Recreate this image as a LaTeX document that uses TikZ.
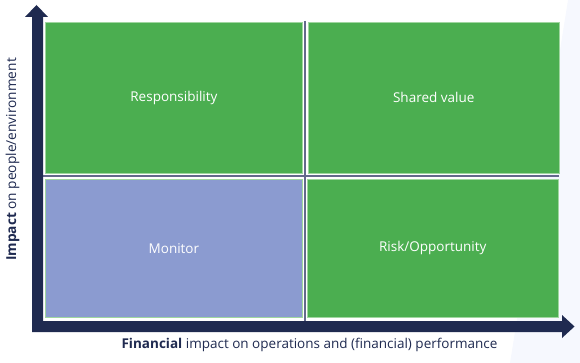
\documentclass[tikz,border=0pt]{standalone}
\usepackage{fontspec}
\setmainfont{Open Sans}
\definecolor{boxgreen}{RGB}{75,174,80}
\definecolor{boxblue}{RGB}{139,155,208}
\definecolor{navy}{RGB}{31,42,80}
\definecolor{divider}{RGB}{100,105,140}
\definecolor{edgegreen}{RGB}{160,214,160}
\definecolor{bgfaint}{RGB}{246,248,254}
\begin{document}
\begin{tikzpicture}[x=1pt,y=-1pt,
  quad/.style={draw=edgegreen,line width=0.8pt,minimum width=#1,inner sep=0pt,anchor=north west,text=white,font=\fontsize{13.5}{16}\selectfont},
  axislabel/.style={text=navy,font=\fontsize{13.5}{16}\selectfont,inner sep=0pt},
  divline/.style={draw=divider,line width=1.2pt}]
\useasboundingbox (0,0) rectangle (580,363);
\fill[bgfaint] (568,0) -- (580,0) -- (580,363) -- (510,363) -- cycle;
% quadrants
\node[quad=257pt,fill=boxgreen,minimum height=151.3pt] (resp) at (45,21.7) {Responsibility};
\node[quad=251.3pt,fill=boxgreen,minimum height=151.3pt] (shared) at (307.7,21.7) {Shared value};
\node[quad=257pt,fill=boxblue,minimum height=137.7pt] (monitor) at (45,179) {Monitor};
\node[quad=251.3pt,fill=boxgreen,minimum height=137.7pt] (risk) at (306.7,179) {Risk/Opportunity};
% dividers
\coordinate (hl) at (43,176);
\coordinate (hr) at (559,176);
\coordinate (vt) at (305,21);
\coordinate (vb) at (305,321);
\draw[divline] (hl) -- (hr);
\draw[divline] (vt) -- (vb);
% axes
\fill[navy] (32,332) -- (32,17) -- (25,17) -- (36.5,5) -- (48,17) -- (43,17) -- (43,321)
  -- (562,321) -- (562,315) -- (574.5,326.5) -- (562,338) -- (562,332) -- cycle;
\node[axislabel] (xlab) at (309.5,345) {\textbf{Financial} impact on operations and (financial) performance};
\node[axislabel,rotate=90,font=\fontsize{13.7}{16}\selectfont] (ylab) at (12.5,159.5) {\textbf{Impact} on people/environment};
\end{tikzpicture}
\end{document}
